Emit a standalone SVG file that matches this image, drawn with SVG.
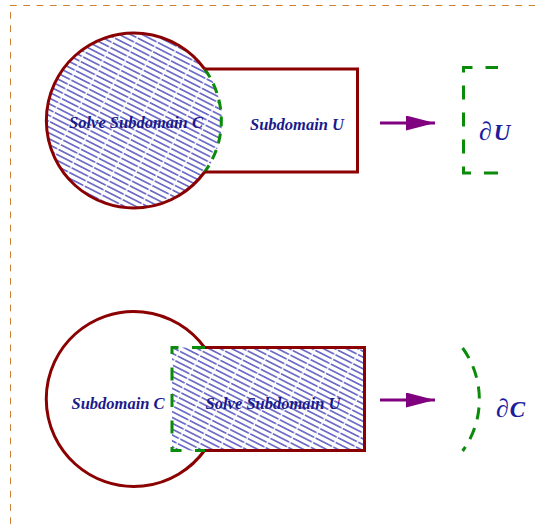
<svg xmlns="http://www.w3.org/2000/svg" width="535" height="524" viewBox="0 0 535 524">
<style>
.frame{fill:none;stroke:#cc8033;stroke-width:1;stroke-dasharray:6.7 6.6}
.red{fill:none;stroke:#8b0000;stroke-width:3}
.green{fill:none;stroke:#0a8c0a;stroke-width:3}
.lbl{font-family:"Liberation Serif","Times New Roman",serif;font-size:16.5px;font-weight:bold;font-style:italic;fill:#1a1a8c}
.big{font-family:"Liberation Serif","Times New Roman",serif;font-size:23px;fill:#1c1c9c}
.arrow{stroke:#800080;stroke-width:3;fill:none}
</style>
<defs>
<pattern id="hatch" width="20" height="5.2" patternUnits="userSpaceOnUse" patternTransform="rotate(27)">
<line x1="0" y1="2.6" x2="18.5" y2="2.6" stroke="#1818a8" stroke-width="1.1"/>
</pattern>
<marker id="ah" markerWidth="30" markerHeight="16" refX="29" refY="7.5" orient="auto" markerUnits="userSpaceOnUse">
<path d="M0,0 L29,7.5 L0,15 Z" fill="#800080"/>
</marker>
</defs>
<rect width="535" height="524" fill="#fff"/>
<path class="frame" d="M10,5.5 H535"/>
<path class="frame" d="M10.5,12 V524"/>

<g id="topC">
<circle cx="134.5" cy="120.5" r="87.5" fill="url(#hatch)"/>
<path class="red" d="M204.6,69 A87.5,87.5 0 1 0 204.6,172"/>
<path class="green" d="M204.6,69 A87.5,87.5 0 0 1 204.6,172" stroke-dasharray="10 7"/>
<text class="lbl" x="136" y="128" text-anchor="middle">Solve Subdomain C</text>
</g>
<g id="topU">
<path class="red" d="M204.6,69 H357.5 V172 H204.6"/>
<text class="lbl" x="297" y="130" text-anchor="middle">Subdomain U</text>
</g>
<g id="dU">
<path class="green" d="M498,67.5 H463.5 V173 H498" stroke-dasharray="14 13" stroke-dashoffset="1.5"/>
<text class="big" x="479" y="140"><tspan font-size="26px">∂</tspan><tspan font-weight="bold" font-style="italic" dx="2">U</tspan></text>
</g>

<g id="bottomC">
<path class="red" d="M204.5,347.5 A87.5,87.5 0 1 0 204.5,450.5"/>
<text class="lbl" x="118" y="409" text-anchor="middle">Subdomain C</text>
</g>
<g id="bottomU">
<rect x="172" y="347.5" width="192.5" height="103" fill="url(#hatch)"/>
<path class="red" d="M204.5,347.5 H364.5 V450.5 H204.5"/>
<path class="green" d="M205,347.5 H172 V450.5 H205" stroke-dasharray="13 13.5"/>
<text class="lbl" x="273" y="409" text-anchor="middle">Solve Subdomain U</text>
</g>
<g id="dC">
<path class="green" d="M462.6,348 A87.5,87.5 0 0 1 462.6,451" stroke-dasharray="12 9"/>
<text class="big" x="496" y="417"><tspan font-size="26px">∂</tspan><tspan font-weight="bold" font-style="italic" dx="1">C</tspan></text>
</g>

<g id="connectors">
<line class="arrow" x1="380" y1="123" x2="435" y2="123" marker-end="url(#ah)"/>
<line class="arrow" x1="380" y1="400" x2="435" y2="400" marker-end="url(#ah)"/>
</g>
</svg>
